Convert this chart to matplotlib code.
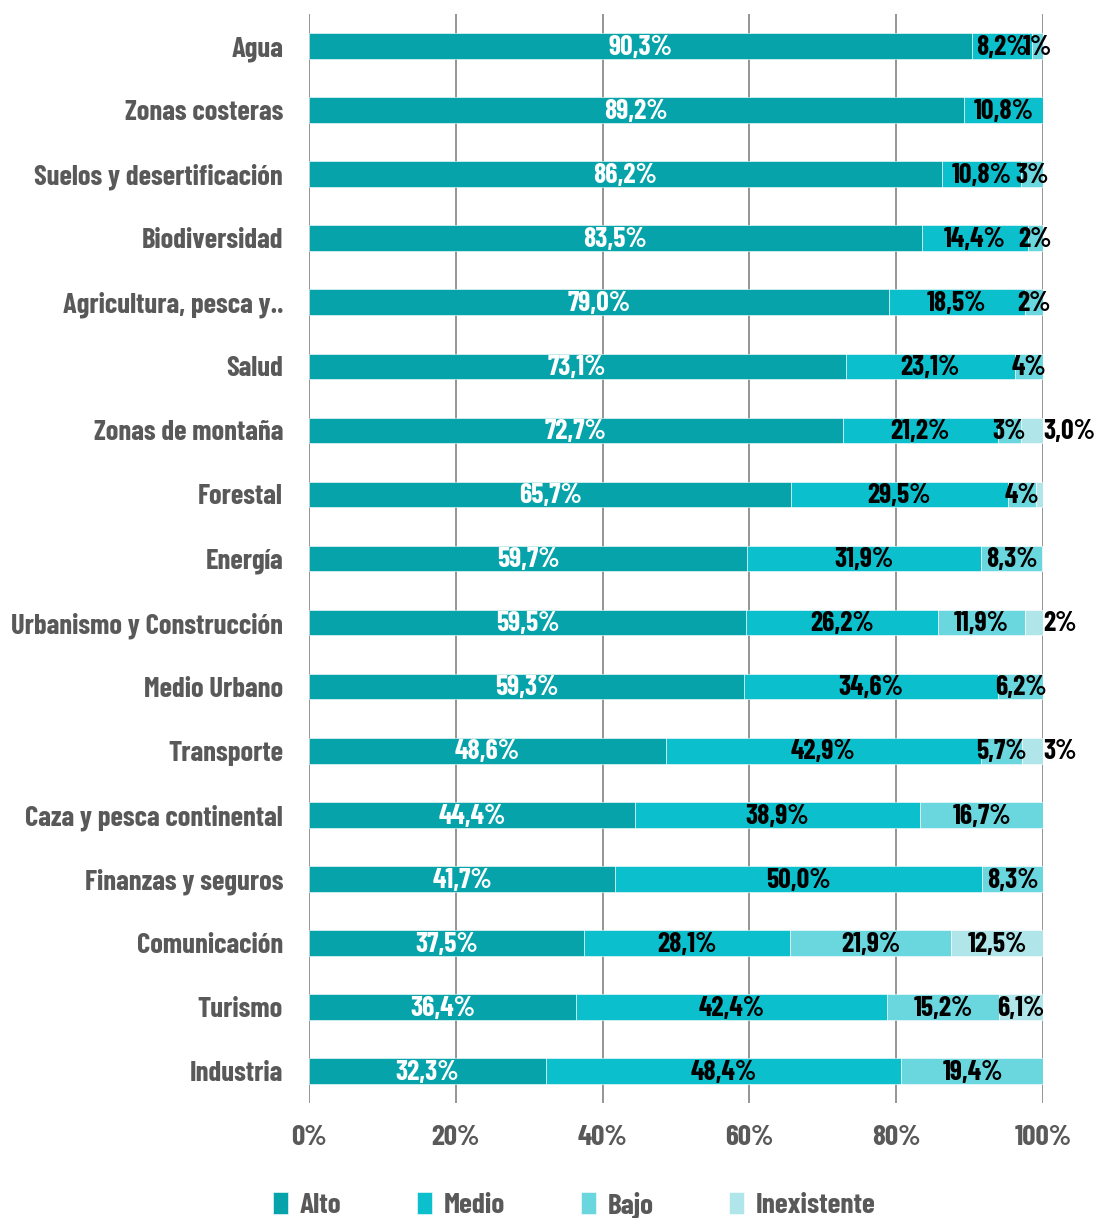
import numpy as np
import matplotlib.pyplot as plt

plt.rcParams['font.family'] = ['Barlow Condensed', 'Liberation Sans Narrow', 'DejaVu Sans']
plt.rcParams['font.weight'] = 'bold'

# Datos
categorias = ["Agua", "Zonas costeras", "Suelos y desertificación", "Biodiversidad",
              "Agricultura, pesca y..", "Salud", "Zonas de montaña", "Forestal",
              "Energía", "Urbanismo y Construcción", "Medio Urbano", "Transporte",
              "Caza y pesca continental", "Finanzas y seguros", "Comunicación",
              "Turismo", "Industria"]

alto = [90.3, 89.2, 86.2, 83.5, 79.0, 73.1, 72.7, 65.7, 59.7, 59.5, 59.3, 48.6,
        44.4, 41.7, 37.5, 36.4, 32.3]
medio = [8.2, 10.8, 10.8, 14.4, 18.5, 23.1, 21.2, 29.5, 31.9, 26.2, 34.6, 42.9,
         38.9, 50.0, 28.1, 42.4, 48.4]
bajo = [1.5, 0, 3.0, 2.1, 2.5, 3.8, 3.1, 3.8, 8.3, 11.9, 6.2, 5.7,
        16.7, 8.3, 21.9, 15.2, 19.4]
inexistente = [0, 0, 0, 0, 0, 0, 3.0, 1.0, 0, 2.4, 0, 2.8,
               0, 0, 12.5, 6.1, 0]

et_alto = ["90,3%", "89,2%", "86,2%", "83,5%", "79,0%", "73,1%", "72,7%", "65,7%",
           "59,7%", "59,5%", "59,3%", "48,6%", "44,4%", "41,7%", "37,5%", "36,4%", "32,3%"]
et_medio = ["8,2%", "10,8%", "10,8%", "14,4%", "18,5%", "23,1%", "21,2%", "29,5%",
            "31,9%", "26,2%", "34,6%", "42,9%", "38,9%", "50,0%", "28,1%", "42,4%", "48,4%"]
et_bajo = ["1%", "", "3%", "2%", "2%", "4%", "3%", "4%", "8,3%", "11,9%", "6,2%",
           "5,7%", "16,7%", "8,3%", "21,9%", "15,2%", "19,4%"]
et_inex = ["", "", "", "", "", "", "3,0%", "", "", "2%", "", "3%",
           "", "", "12,5%", "6,1%", ""]

series = ["Alto", "Medio", "Bajo", "Inexistente"]
colores = ["#06A3AA", "#0BC0CC", "#6AD6DE", "#B0E5EA"]
ticks_x = [0, 20, 40, 60, 80, 100]
ticks_et = ["0%", "20%", "40%", "60%", "80%", "100%"]

gris = "#595959"

fig = plt.figure(figsize=(10.96, 12.18), dpi=100)
ax = fig.add_axes([0.282, 0.0944, 0.6696, 0.8941])

y = np.arange(len(categorias))
valores = [alto, medio, bajo, inexistente]
etiquetas = [et_alto, et_medio, et_bajo, et_inex]
izq = np.zeros(len(categorias))
textos_valor = []

for i, (vals, etq) in enumerate(zip(valores, etiquetas)):
    vals = np.array(vals)
    ax.barh(y, vals, left=izq, height=0.4, color=colores[i], label=series[i],
            edgecolor="white", linewidth=0.4, zorder=3)
    for j in range(len(categorias)):
        if etq[j] == "":
            continue
        col = "white" if i == 0 else "black"
        if i == 3 and vals[j] < 5:
            t = ax.text(100.0, y[j] + 0.02, etq[j], ha="left", va="center",
                        fontsize=16, color="black", zorder=4)
        else:
            t = ax.text(izq[j] + vals[j] / 2, y[j] + 0.02, etq[j], ha="center", va="center",
                        fontsize=16, color=col, zorder=4)
        textos_valor.append(t)
    izq = izq + vals

ax.set_xlim(0, 100)
ax.set_ylim(len(categorias) - 0.5, -0.5)
ax.set_yticks(y)
ax.set_yticklabels(categorias, fontsize=16, color=gris)
ax.set_xticks(ticks_x)
ax.set_xticklabels(ticks_et, fontsize=16, color=gris)
ax.tick_params(axis="y", length=0, pad=18.7)
ax.tick_params(axis="x", length=0, pad=16)
ax.grid(axis="x", color="#8C8C8C", linewidth=1.3, zorder=0)
for s in ax.spines.values():
    s.set_visible(False)

# Ajustar tamaños de letra al ancho del original
fig.canvas.draw()
r = fig.canvas.get_renderer()

def ancho(t):
    return t.get_window_extent(r).width

ylab = ax.get_yticklabels()
f_cat = 16 * 273 / max(ancho(t) for t in ylab)
for t in ylab:
    t.set_fontsize(f_cat)

xlab = ax.get_xticklabels()
f_x = 16 * 57 / ancho(xlab[-1])
for t in xlab:
    t.set_fontsize(f_x)

f_val = 16 * 64 / ancho(textos_valor[0])
for t in textos_valor:
    t.set_fontsize(f_val)

leg = fig.legend(loc="center", bbox_to_anchor=(0.524, 0.0107), ncol=4,
                 frameon=False, fontsize=f_x, handlelength=0.5, handleheight=0.75,
                 handletextpad=0.4, columnspacing=2.6)
for t in leg.get_texts():
    t.set_color(gris)

plt.savefig("out.png", dpi=100)
